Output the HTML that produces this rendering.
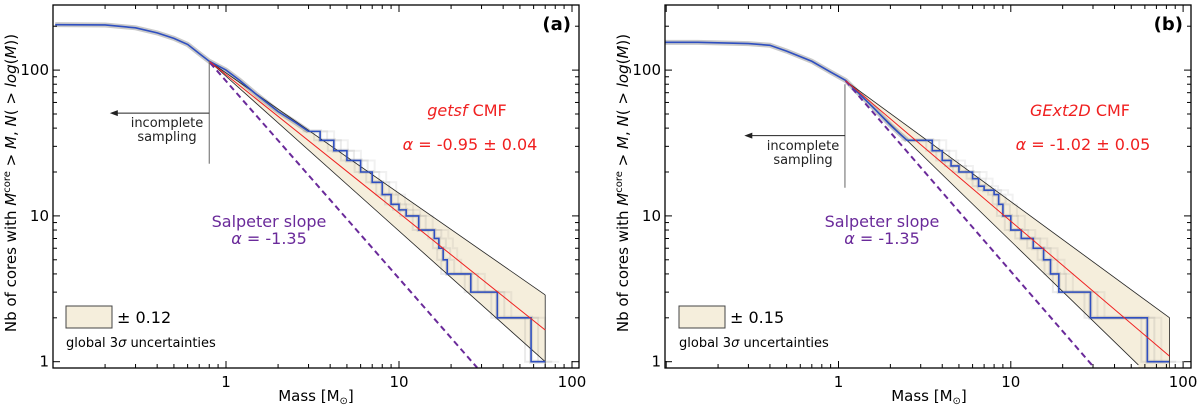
<!DOCTYPE html>
<html><head><meta charset="utf-8"><style>
html,body{margin:0;padding:0;background:#fff;}
svg{display:block;font-family:"DejaVu Sans","Liberation Sans",sans-serif;}
</style></head><body>
<svg id="chart" width="1200" height="407" viewBox="0 0 1200 407"></svg>
<script>
// ---- Panel (a) data ----
const aSmoothM=[0.103,0.2,0.3,0.4,0.5,0.6,0.7,0.8,1,1.2,1.5,2,2.5,3];
const aSmoothN=[205,204,195,180,165,150,130,115,100,85,68,52,44,38];
const aStepM=[3,3.5,4.2,5,6,7,8,9,10,11,13,16,17,18,19,26,37,58,70];
const aStepN=[38,33,28,24,20,17,14,12,11,10,8,7,6,5,4,3,2,1,1];
const aFit=[[0.8,115],[70,1.65]];
const aUpper=[[0.8,115],[70,2.87]];
const aLower=[[0.8,115],[70,1.0]];
const aSalp=[[0.81,112],[28.3,0.91]];
// ---- Panel (b) data ----
const bSmoothM=[0.098,0.153,0.3,0.4,0.5,0.7,0.9,1.1,1.3,1.6,2,2.3,2.5];
const bSmoothN=[155,155,152,148,135,115,97,85,70,55,42,36,33];
const bStepM=[2.5,3.2,3.5,4,4.5,5,6,6.5,7,8,8.5,9,10,11.5,13.5,15.5,17,19,29,62,83];
const bStepN=[33,33,28,24,22,20,18,16,15,14,12,10,8,7,6,5,4,3,2,1,1];
const bFit=[[1.1,84.5],[83.5,1.09]];
const bUpper=[[1.1,84.5],[83.5,2.0]];
const bLower=[[1.1,84.5],[55,0.95]];
const bSalp=[[1.1,84.5],[30.5,0.91]];
const xTickLabels=["1","10","100"];
const yTickLabels=["1","10","100"];

const NS="http://www.w3.org/2000/svg";
const svg=document.getElementById('chart');
function el(tag,attrs,parent){const e=document.createElementNS(NS,tag);for(const k in attrs)e.setAttribute(k,attrs[k]);(parent||svg).appendChild(e);return e;}

function panel(cfg){
  const g=el('g',{});
  
  
  const L=cfg.left,R=cfg.right,T=5,B=368;
  const X=m=>cfg.x1+cfg.dec*Math.log10(m);
  const Y=n=>361.7-145.8*Math.log10(n);
  const clip='clip'+cfg.id;
  const cp=el('clipPath',{id:clip},g);el('rect',{x:L,y:T,width:R-L,height:B-T},cp);
  const pg=el('g',{'clip-path':`url(#${clip})`},g);
  const band=el('polygon',{points:[cfg.up[0],cfg.up[1],[cfg.up[1][0],0.91],[cfg.lo[1][0],0.91],cfg.lo[1]].map(p=>X(p[0])+','+Y(p[1])).join(' '),fill:'#f5eedc',stroke:'none'},pg);
  
  
  const pts=[];cfg.sM.forEach((m,i)=>pts.push([X(m),Y(cfg.sN[i])]));
  const haze=el('polyline',{points:pts.map(p=>p.join(',')).join(' '),fill:'none',stroke:'#888',opacity:0.45,'stroke-width':5},pg);
  
  
  // steps: horizontal at N_i until next mass, then drop
  let sp=[];cfg.tM.forEach((m,i)=>{sp.push([X(m),Y(cfg.tN[i])]);if(i<cfg.tM.length-1){sp.push([X(cfg.tM[i+1]),Y(cfg.tN[i])]);}});
  for(const [dx,w,op] of [[0,4,0.2],[7,2,0.15],[-6,2,0.15],[14,2,0.1]]){
    const h=el('polyline',{points:sp.map(p=>(p[0]+dx)+','+p[1]).join(' '),fill:'none',stroke:'#777',opacity:op,'stroke-width':w},pg);
    
    
  }
  for(const [ln,nm] of [[cfg.up,'upper-envelope'],[cfg.lo,'lower-envelope']]){
    const e=el('line',{x1:X(ln[0][0]),y1:Y(ln[0][1]),x2:X(ln[1][0]),y2:Y(ln[1][1]),stroke:'#222','stroke-width':0.8},pg);
    
    
  }
  const ev=el('line',{x1:X(cfg.up[1][0]),y1:Y(cfg.up[1][1]),x2:X(cfg.up[1][0]),y2:Y(0.91),stroke:'#222','stroke-width':0.8},pg);
  
  
  const s=el('line',{x1:X(cfg.sal[0][0]),y1:Y(cfg.sal[0][1]),x2:X(cfg.sal[1][0]),y2:Y(cfg.sal[1][1]),stroke:'#6a2a9a','stroke-width':2,'stroke-dasharray':'6,4'},pg);
  
  
  const bp=pts.concat(sp);
  const bl=el('polyline',{points:bp.map(p=>p.join(',')).join(' '),fill:'none',stroke:'#2f4fc0','stroke-width':1.6},pg);
  
  
  const f=el('line',{x1:X(cfg.fit[0][0]),y1:Y(cfg.fit[0][1]),x2:X(cfg.fit[1][0]),y2:Y(cfg.fit[1][1]),stroke:'#f02020','stroke-width':1},pg);
  
  
  const c=el('line',{x1:X(cfg.cM),y1:Y(cfg.cTop),x2:X(cfg.cM),y2:Y(cfg.cBot),stroke:'#666','stroke-width':1},g);
  
  
  const ar=el('line',{x1:X(cfg.cM),y1:Y(cfg.arN),x2:X(cfg.arM)+6,y2:Y(cfg.arN),stroke:'#222','stroke-width':1},g);
  
  
  el('polygon',{points:`${X(cfg.arM)},${Y(cfg.arN)} ${X(cfg.arM)+8},${Y(cfg.arN)-3} ${X(cfg.arM)+8},${Y(cfg.arN)+3}`,fill:'#222'},g);
  const t1=el('text',{x:cfg.incX,y:cfg.incY,'font-size':13,'text-anchor':'middle',fill:'#222'},g);t1.textContent='incomplete';
  
  const t2=el('text',{x:cfg.incX,y:cfg.incY+14,'font-size':13,'text-anchor':'middle',fill:'#222'},g);t2.textContent='sampling';
  
  const bx=el('rect',{x:L,y:T,width:R-L,height:B-T,fill:'none',stroke:'#000','stroke-width':1.3},g);
  
  for(let d=-1;d<=2;d++){for(let k=1;k<10;k++){const m=k*Math.pow(10,d);const x=X(m);if(x<L||x>R)continue;const len=k==1?7:4;
    el('line',{x1:x,y1:B,x2:x,y2:B-len,stroke:'#000'},g);el('line',{x1:x,y1:T,x2:x,y2:T+len,stroke:'#000'},g);}}
  for(let d=-1;d<=2;d++){for(let k=1;k<10;k++){const n=k*Math.pow(10,d);const y=Y(n);if(y<T||y>B)continue;const len=k==1?7:4;
    el('line',{x1:L,y1:y,x2:L+len,y2:y,stroke:'#000'},g);el('line',{x1:R,y1:y,x2:R-len,y2:y,stroke:'#000'},g);}}
  xTickLabels.forEach((lb,i)=>{const t=el('text',{x:X(Math.pow(10,i)),y:387,'font-size':15,'text-anchor':'middle'},g);t.textContent=lb;
    });
  yTickLabels.forEach((lb,i)=>{const t=el('text',{x:L-4,y:Y(Math.pow(10,i))+5,'font-size':15,'text-anchor':'end'},g);t.textContent=lb;
    });
  const xl=el('text',{x:cfg.xlX,y:401,'font-size':15,'text-anchor':'middle'},g);xl.innerHTML='Mass [M<tspan font-size="10" dy="3">⊙</tspan><tspan dy="-3">]</tspan>';
  
  const yl=el('text',{x:0,y:0,'font-size':15,'text-anchor':'middle',transform:`translate(${cfg.ylX},183) rotate(-90)`},g);
  yl.innerHTML='Nb of cores with <tspan font-style="italic">M</tspan><tspan font-size="10" dy="-6">core</tspan><tspan dy="6"> &gt; </tspan><tspan font-style="italic">M</tspan>, <tspan font-style="italic">N</tspan>( &gt; <tspan font-style="italic">log</tspan>(<tspan font-style="italic">M</tspan>))';
  
  const pl=el('text',{x:R-8,y:30,'font-size':18,'font-weight':'bold','text-anchor':'end'},g);pl.textContent=cfg.letter;
  
  const ct=el('text',{x:cfg.cmfX,y:116,'font-size':16,'text-anchor':'middle',fill:'#f02020'},g);ct.innerHTML=`<tspan font-style="italic">${cfg.alg}</tspan>  CMF`;
  
  const al=el('text',{x:cfg.cmfX+3,y:150,'font-size':16,'text-anchor':'middle',fill:'#f02020'},g);al.innerHTML=`<tspan font-style="italic">α</tspan> = ${cfg.alpha}`;
  
  const s1=el('text',{x:cfg.salX,y:227,'font-size':16,'text-anchor':'middle',fill:'#6a2a9a'},g);s1.textContent='Salpeter slope';
  
  const s2=el('text',{x:cfg.salX,y:244,'font-size':16,'text-anchor':'middle',fill:'#6a2a9a'},g);s2.innerHTML='<tspan font-style="italic">α</tspan> = -1.35';
  
  const lb=el('rect',{x:cfg.legX,y:306,width:46,height:22,fill:'#f5eedc',stroke:'#444','stroke-width':1},g);
  
  const lt=el('text',{x:cfg.legX+51,y:323,'font-size':16},g);lt.textContent='± '+cfg.unc;
  
  const lg=el('text',{x:cfg.legX,y:347,'font-size':13},g);lg.innerHTML='global 3<tspan font-style="italic">σ</tspan> uncertainties';
  
}
panel({id:'a',name:'panel-a',left:53,right:579,x1:226,dec:173,sM:aSmoothM,sN:aSmoothN,tM:aStepM,tN:aStepN,fit:aFit,up:aUpper,lo:aLower,sal:aSalp,
  cM:0.8,cTop:115,cBot:22.8,arN:50.7,arM:0.213,incX:167,incY:127,xlX:316,ylX:16,letter:'(a)',alg:'getsf',alpha:'-0.95 ± 0.04',cmfX:467,salX:269,legX:66,unc:'0.12'});
panel({id:'b',name:'panel-b',left:665,right:1191,x1:838.5,dec:172.3,sM:bSmoothM,sN:bSmoothN,tM:bStepM,tN:bStepN,fit:bFit,up:bUpper,lo:bLower,sal:bSalp,
  cM:1.09,cTop:80,cBot:15.6,arN:35.5,arM:0.284,incX:803,incY:150,xlX:929,ylX:628,letter:'(b)',alg:'GExt2D',alpha:'-1.02 ± 0.05',cmfX:1080,salX:882,legX:679,unc:'0.15'});
</script>
</body></html>
